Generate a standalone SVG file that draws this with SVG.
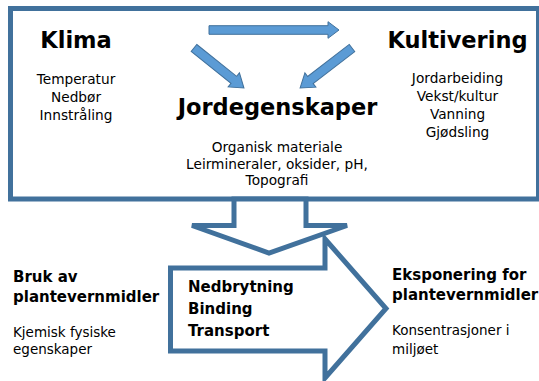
<svg xmlns="http://www.w3.org/2000/svg" width="539" height="381" viewBox="0 0 539 381">
<defs>
<style>
text{font-family:"DejaVu Sans","Liberation Sans",sans-serif;fill:#000}
.h1{font-size:22.5px;font-weight:bold;text-anchor:middle}
.s{font-size:13.7px;text-anchor:middle}
.b{font-size:15px;font-weight:bold}
.bm{font-size:15px;font-weight:bold}
.l{font-size:13.5px}
.frame{fill:#fff;stroke:#41719C;stroke-width:5}
.blue{fill:#5B9BD5;stroke:#41719C;stroke-width:1}
</style>
</defs>
<rect width="539" height="381" fill="#fff"/>
<g id="context">
<rect class="frame" x="10.5" y="8.5" width="528" height="190.5"/>
</g>
<g id="klima">
<text class="h1" x="76" y="48">Klima</text>
<text class="s" x="76" y="84">Temperatur</text>
<text class="s" x="76" y="102">Nedbør</text>
<text class="s" x="76" y="120">Innstråling</text>
</g>
<g id="kultivering">
<text class="h1" x="457.5" y="48">Kultivering</text>
<text class="s" x="457.5" y="83">Jordarbeiding</text>
<text class="s" x="457.5" y="101">Vekst/kultur</text>
<text class="s" x="457.5" y="119">Vanning</text>
<text class="s" x="457.5" y="137">Gjødsling</text>
</g>
<g id="jordegenskaper">
<text class="h1" x="277.5" y="115">Jordegenskaper</text>
<text class="s" x="277" y="152">Organisk materiale</text>
<text class="s" x="277" y="168.5">Leirmineraler, oksider, pH,</text>
<text class="s" x="277" y="185">Topografi</text>
</g>
<g id="connectors">
<polygon class="blue" points="209,25.7 328,25.7 328,21.7 339,30 328,38.3 328,34.3 209,34.3"/>
<polygon class="blue" transform="translate(194,48) rotate(38.7)" points="0,-4.5 51,-4.5 51,-9 64,0 51,9 51,4.5 0,4.5"/>
<polygon class="blue" transform="translate(352,48) rotate(142.4)" points="0,-4.5 52.5,-4.5 52.5,-9 65.5,0 52.5,9 52.5,4.5 0,4.5"/>
<polygon class="frame" points="234,199 234,225.5 192,225.5 269,253 347,225.5 306,225.5 306,199"/>
<polygon class="frame" points="170.5,268 325,268 325,239 386,308.5 325,378 325,351 170.5,351"/>
</g>
<g id="bruk">
<text class="b" x="13" y="282">Bruk av</text>
<text class="b" x="13" y="302">plantevernmidler</text>
<text class="l" x="13" y="337">Kjemisk fysiske</text>
<text class="l" x="13" y="354">egenskaper</text>
</g>
<g id="prosesser">
<text class="bm" x="188" y="292">Nedbrytning</text>
<text class="bm" x="188" y="314">Binding</text>
<text class="bm" x="188" y="336">Transport</text>
</g>
<g id="eksponering">
<text class="b" x="392" y="280">Eksponering for</text>
<text class="b" x="392" y="300">plantevernmidler</text>
<text class="l" x="392" y="335">Konsentrasjoner i</text>
<text class="l" x="392" y="354">miljøet</text>
</g>
</svg>
